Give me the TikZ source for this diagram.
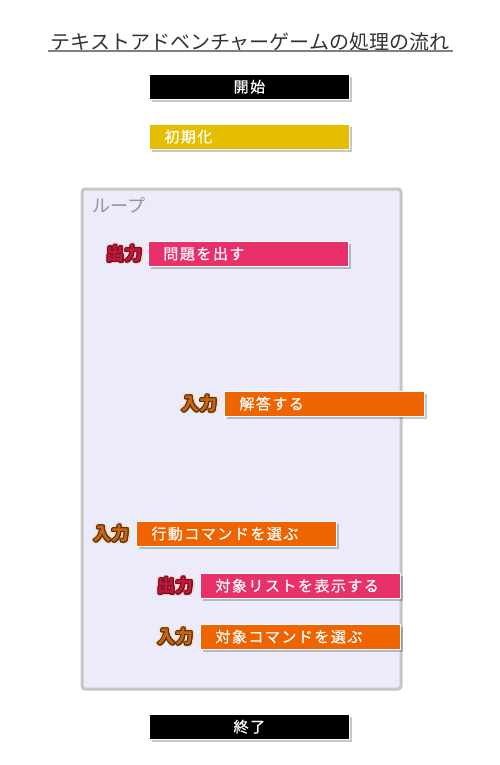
\documentclass[tikz,border=0pt]{standalone}
\usepackage{fontspec}
\setmainfont{Noto Sans CJK JP}
\newfontfamily\boxfont[LetterSpace=10, FakeBold=0.6]{Noto Sans CJK JP}
\usetikzlibrary{shadows}

\definecolor{startblack}{HTML}{000000}
\definecolor{inityellow}{HTML}{E6BE00}
\definecolor{outpink}{HTML}{E8306A}
\definecolor{inorange}{HTML}{EE6400}
\definecolor{loopfill}{HTML}{EBEBFA}
\definecolor{loopline}{HTML}{C6C6C6}
\definecolor{outfill}{HTML}{C8143C}
\definecolor{outedge}{HTML}{701018}
\definecolor{outhalo}{HTML}{F6C8CC}
\definecolor{infill}{HTML}{C86414}
\definecolor{inedge}{HTML}{5A3010}
\definecolor{inhalo}{HTML}{F6DCBC}

% text drawn with a ring of copies behind it
\newcommand\ringtext[3]{%
  \foreach \a in {0,30,...,330}{%
    \pgfmathsetmacro\dx{#1*cos(\a)}\pgfmathsetmacro\dy{#1*sin(\a)}%
    \makebox[0pt][l]{\hspace*{\dx pt}\raisebox{\dy pt}{\color{#2}#3}}}}
\newcommand\iotext[4]{\ringtext{2.3}{#3}{#4}\ringtext{1.1}{#2}{#4}\textcolor{#1}{#4}}

\tikzset{
  stepbox/.style={anchor=north west, minimum width=200pt, minimum height=25pt,
    inner xsep=15pt, inner ysep=0pt, text=white, draw=white, line width=0.8pt,
    font=\boxfont\fontsize{15}{17}\selectfont, text height=12pt, text depth=1pt,
    drop shadow={shadow xshift=3pt, shadow yshift=-3pt, fill=black, opacity=0.22}},
  leftbox/.style={stepbox, align=left, text width=170pt},
  outlabel/.style={anchor=east, inner sep=0pt, font=\bfseries\fontsize{18}{18}\selectfont},
}

\begin{document}
\begin{tikzpicture}[x=1pt, y=-1pt]
\useasboundingbox (0,0) rectangle (500,765);
\fill [white] (0,0) rectangle (500,765);

% title
\node (title) at (250,42) [text=black!80, font=\fontsize{20}{22}\selectfont] {テキストアドベンチャーゲームの処理の流れ};
\draw [black!50, line width=2pt] (48,51.5) -- (453,51.5);

\node (start) at (149,74) [stepbox, fill=startblack] {開始};
\node (init) at (149,124) [leftbox, fill=inityellow] {初期化};

% loop frame
\draw [loopline, fill=loopfill, line width=3pt, rounded corners=3pt] (82,189) rectangle (401,689);
\node (loop) at (92,205) [anchor=west, inner sep=0pt, text=black!42, font=\fontsize{18}{18}\selectfont] {ループ};

\node (ask) at (148,241) [leftbox, fill=outpink] {問題を出す};
\node (answer) at (224,391) [leftbox, fill=inorange] {解答する};
\node (action) at (136,521) [leftbox, fill=inorange] {行動コマンドを選ぶ};
\node (list) at (200,573) [leftbox, fill=outpink] {対象リストを表示する};
\node (target) at (200,624) [leftbox, fill=inorange] {対象コマンドを選ぶ};

\node (askio) at ([xshift=-5pt]ask.west) [outlabel] {\iotext{outfill}{outedge}{outhalo}{出力}};
\node (answerio) at ([xshift=-6pt]answer.west) [outlabel] {\iotext{infill}{inedge}{inhalo}{入力}};
\node (actionio) at ([xshift=-6pt]action.west) [outlabel] {\iotext{infill}{inedge}{inhalo}{入力}};
\node (listio) at ([xshift=-6pt]list.west) [outlabel] {\iotext{outfill}{outedge}{outhalo}{出力}};
\node (targetio) at ([xshift=-6pt]target.west) [outlabel] {\iotext{infill}{inedge}{inhalo}{入力}};

\node (end) at (149,714) [stepbox, fill=startblack] {終了};
\end{tikzpicture}
\end{document}
